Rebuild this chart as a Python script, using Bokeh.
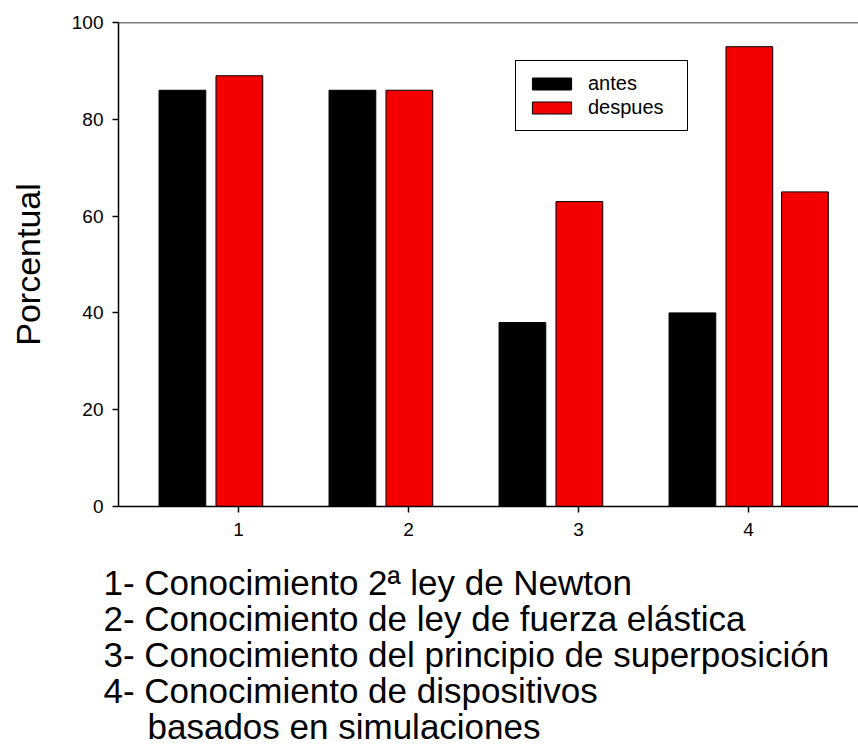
from bokeh.plotting import figure
from bokeh.models import (Range1d, FixedTicker, Legend, LegendItem, Span, Title,
                          ColumnDataSource)
from bokeh.transform import dodge
from bokeh.embed import file_html
from bokeh.resources import INLINE

# ---- data ----
groups = [1, 2, 3, 4]
antes = [86, 86, 38, 40]
despues = [89, 86, 63, 95]
extra_groups = [4]
extra_values = [65]
y_ticks = [0, 20, 40, 60, 80, 100]
y_label = "Porcentual"
series_names = ["antes", "despues"]
notes = [
    "1- Conocimiento 2\u00aa ley de Newton",
    "2- Conocimiento de ley de fuerza el\u00e1stica",
    "3- Conocimiento del principio de superposici\u00f3n",
    "4- Conocimiento de dispositivos",
    "basados en simulaciones",
]

FONT = "Liberation Sans"
RED = "#f50000"

p = figure(width=858, height=747, output_backend="svg", toolbar_location=None,
           x_range=Range1d(0.294, 4.647), y_range=Range1d(0, 100),
           min_border_left=118, min_border_right=0, min_border_top=22,
           min_border_bottom=241)
p.outline_line_color = None
p.xgrid.grid_line_color = None
p.ygrid.grid_line_color = None
p.background_fill_color = "white"

src = ColumnDataSource(dict(x=groups, antes=antes, despues=despues))
src2 = ColumnDataSource(dict(x=extra_groups, v=extra_values))

w = 0.275
r1 = p.vbar(x=dodge("x", -0.33, range=p.x_range), top="antes", width=w, source=src,
            fill_color="black", line_color="black", line_width=1)
r2 = p.vbar(x=dodge("x", 0.005, range=p.x_range), top="despues", width=w, source=src,
            fill_color=RED, line_color="black", line_width=1)
r3 = p.vbar(x=dodge("x", 0.332, range=p.x_range), top="v", width=w, source=src2,
            fill_color=RED, line_color="black", line_width=1)

# top frame line
p.add_layout(Span(location=100, dimension="width", line_color="black", line_width=1.5))

for ax in (p.xaxis[0], p.yaxis[0]):
    ax.axis_line_color = "black"
    ax.axis_line_width = 1.5
    ax.major_tick_line_color = "black"
    ax.major_tick_line_width = 1.5
    ax.major_tick_out = 6
    ax.major_tick_in = 0
    ax.minor_tick_line_color = None
    ax.major_label_text_font = FONT
    ax.major_label_text_font_size = "19px"
    ax.major_label_text_color = "black"

p.xaxis[0].ticker = FixedTicker(ticks=groups)
p.xaxis[0].major_label_standoff = 10
p.yaxis[0].ticker = FixedTicker(ticks=y_ticks)
p.yaxis[0].major_label_standoff = 9
p.yaxis[0].axis_label = y_label
p.yaxis[0].axis_label_text_font = FONT
p.yaxis[0].axis_label_text_font_size = "34px"
p.yaxis[0].axis_label_text_font_style = "normal"
p.yaxis[0].axis_label_text_color = "black"
p.yaxis[0].axis_label_standoff = 22

legend = Legend(items=[LegendItem(label=series_names[0], renderers=[r1]),
                       LegendItem(label=series_names[1], renderers=[r2])],
                location=(397, 375), orientation="vertical")
legend.border_line_color = "black"
legend.border_line_alpha = 1
legend.border_line_width = 1.5
legend.background_fill_alpha = 1
legend.padding = 11
legend.spacing = 1
legend.margin = 0
legend.glyph_width = 49
legend.glyph_height = 15
legend.label_height = 17
legend.label_width = 88
legend.label_standoff = 12
legend.label_text_font = FONT
legend.label_text_font_size = "20px"
legend.label_text_color = "black"
p.add_layout(legend, "center")

# ---- notes below the chart, as stacked titles ----
p.add_layout(Title(text="\u00a0", text_font_size="10px", standoff=12), "below")
offsets = [-15, -15, -15, -15, 29]
for txt, off in zip(notes, offsets):
    t = Title(text=txt, align="left", offset=off, text_font=FONT,
              text_font_size="35px", text_font_style="normal", text_color="black",
              standoff=-5)
    p.add_layout(t, "below")

open("out.html", "w").write(file_html(p, INLINE))
